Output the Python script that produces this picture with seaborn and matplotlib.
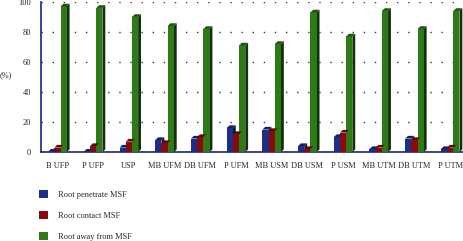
import matplotlib
matplotlib.use("Agg")
import matplotlib.pyplot as plt
import seaborn as sns
import pandas as pd
import numpy as np
from matplotlib.patches import Polygon, Patch
from matplotlib.colors import to_rgb

categories = ["B UFP", "P UFP", "USP", "MB UFM", "DB UFM", "P UFM",
              "MB USM", "DB USM", "P USM", "MB UTM", "DB UTM", "P UTM"]
penetrate = [0.3, 0.3, 3, 8, 9, 16, 15, 4, 10, 2, 9, 2]
contact = [3, 4, 7, 6, 10, 12, 14, 2, 13, 3, 8, 3]
away = [97, 96, 90, 84, 82, 71, 72, 93, 77, 94, 82, 94]
series = ["Root penetrate MSF", "Root contact MSF", "Root away from MSF"]
colors = ["#1a2f8a", "#8a0a0a", "#2d7a17"]

rows = []
for i, c in enumerate(categories):
    rows.append((c, series[0], penetrate[i]))
    rows.append((c, series[1], contact[i]))
    rows.append((c, series[2], away[i]))
df = pd.DataFrame(rows, columns=["cat", "series", "value"])

sns.set_style("white")
plt.rcParams["font.family"] = ["Liberation Serif", "DejaVu Serif"]

fig = plt.figure(figsize=(4.63, 2.41), dpi=100)
ax = fig.add_axes([0.0886, 0.369, 0.93, 0.623])

sns.barplot(data=df, x="cat", y="value", hue="series", palette=colors,
            order=categories, hue_order=series, width=0.52, ax=ax,
            legend=False, saturation=1, zorder=3, linewidth=0)

# pseudo-3D side and top faces derived from bar geometry
dx = 0.08
dy = 1.8
for p in list(ax.patches):
    x0 = p.get_x(); w = p.get_width(); h = p.get_height()
    fc = np.array(to_rgb(p.get_facecolor()))
    dark = tuple(fc * 0.4)
    mid = tuple(np.clip(fc * 0.7, 0, 1))
    side = Polygon([(x0 + w, 0), (x0 + w + dx, dy), (x0 + w + dx, h + dy), (x0 + w, h)],
                   closed=True, facecolor=dark, edgecolor="none", zorder=2.9)
    top = Polygon([(x0, h), (x0 + dx, h + dy), (x0 + w + dx, h + dy), (x0 + w, h)],
                  closed=True, facecolor=mid, edgecolor="none", zorder=3.1)
    ax.add_patch(side)
    ax.add_patch(top)

ax.set_ylim(0, 100)
ax.set_xlim(-0.46, len(categories) - 0.4)
ax.set_yticks([0, 20, 40, 60, 80, 100])
ax.yaxis.grid(True, linestyle=(0, (1, 7)), color="#333333", linewidth=1.0, zorder=0)
ax.xaxis.grid(False)
ax.set_xlabel("")
ax.set_ylabel("")
fig.text(0.0, 0.69, "(%)", fontsize=6, ha="left", va="center")
ax.tick_params(axis="both", labelsize=6, length=0)
ax.tick_params(axis="y", pad=7)
ax.tick_params(axis="x", pad=7)
for s in ["top", "right"]:
    ax.spines[s].set_visible(False)
ax.spines["left"].set_color("#1a237e")
ax.spines["bottom"].set_color("#1a237e")
ax.spines["left"].set_linewidth(1.2)
ax.spines["bottom"].set_linewidth(1.2)

handles = [Patch(facecolor=c, edgecolor="none") for c in colors]
fig.legend(handles, series, loc="upper left", bbox_to_anchor=(0.078, 0.225),
           frameon=False, fontsize=6, handlelength=1.0, handleheight=1.0,
           labelspacing=1.5, handletextpad=1.2, borderaxespad=0)

fig.savefig("out.png", dpi=100)
